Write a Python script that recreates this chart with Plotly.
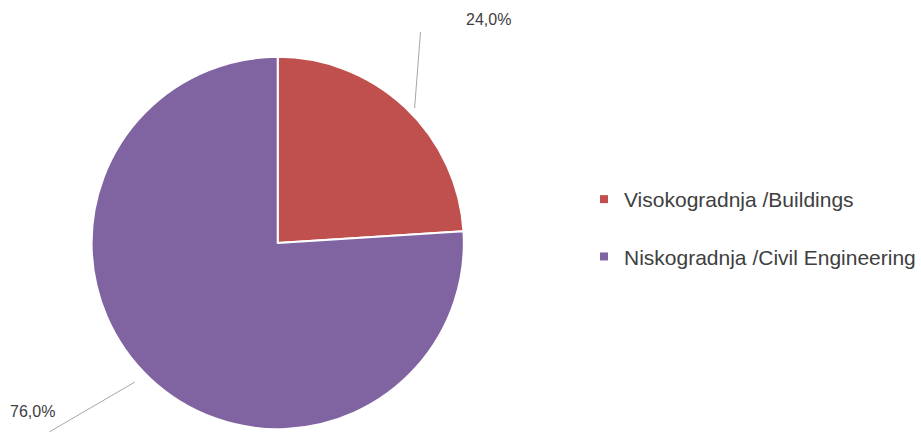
import plotly.graph_objects as go

categories = ["Visokogradnja /Buildings", "Niskogradnja /Civil Engineering"]
values = [24.0, 76.0]
colors = ["#C0504D", "#8064A2"]

W, H = 921, 432
cx, cy, r = 282, 243, 189  # pixel centre / radius of the pie

fig = go.Figure()
fig.add_trace(go.Pie(
    labels=categories, values=values, sort=False, direction="clockwise", rotation=0,
    marker=dict(colors=colors, line=dict(color="white", width=2)),
    textinfo="none", hoverinfo="label+percent", showlegend=False,
    domain=dict(x=[(cx - r) / W, (cx + r) / W], y=[max(0, (H - cy - r) / H), (H - cy + r) / H]),
))

# legend entries (dummy traces so spacing can be controlled)
for i, (c, col) in enumerate(zip(categories, colors)):
    fig.add_trace(go.Scatter(
        x=[None], y=[None], mode="markers", name=c, legendgroup=f"g{i}",
        marker=dict(symbol="square", size=8, color=col),
    ))

total = sum(values)
pct = [f"{v / total * 100:.1f}%".replace(".", ",") for v in values]

fig.add_annotation(x=496 / W, y=1 - 20 / H, xref="paper", yref="paper", text=pct[0],
                   xanchor="center", yanchor="middle",
                   showarrow=False, font=dict(size=16, color="#404040"))
fig.add_annotation(x=33 / W, y=1 - 411 / H, xref="paper", yref="paper", text=pct[1],
                   xanchor="center", yanchor="middle",
                   showarrow=False, font=dict(size=16, color="#404040"))
fig.add_shape(type="line", xref="paper", yref="paper",
              x0=421 / W, y0=1 - 108 / H, x1=427 / W, y1=1 - 32 / H,
              line=dict(color="#A6A6A6", width=1))
fig.add_shape(type="line", xref="paper", yref="paper",
              x0=137 / W, y0=1 - 382 / H, x1=50 / W, y1=1 - 432 / H,
              line=dict(color="#A6A6A6", width=1))

fig.update_layout(
    width=W, height=H, margin=dict(l=0, r=0, t=0, b=0),
    paper_bgcolor="white", plot_bgcolor="white",
    font=dict(family="Liberation Sans, Arial, sans-serif", color="#404040"),
    xaxis=dict(visible=False), yaxis=dict(visible=False),
    legend=dict(x=593 / W, y=1 - 228 / H, xanchor="left", yanchor="middle",
                font=dict(size=21, color="#404040"), tracegroupgap=27,
                itemwidth=30, bgcolor="rgba(0,0,0,0)"),
    separators=",.",
)

fig.write_html("out.html", config={"displayModeBar": False},
               post_script="document.body.style.margin='0px';")
